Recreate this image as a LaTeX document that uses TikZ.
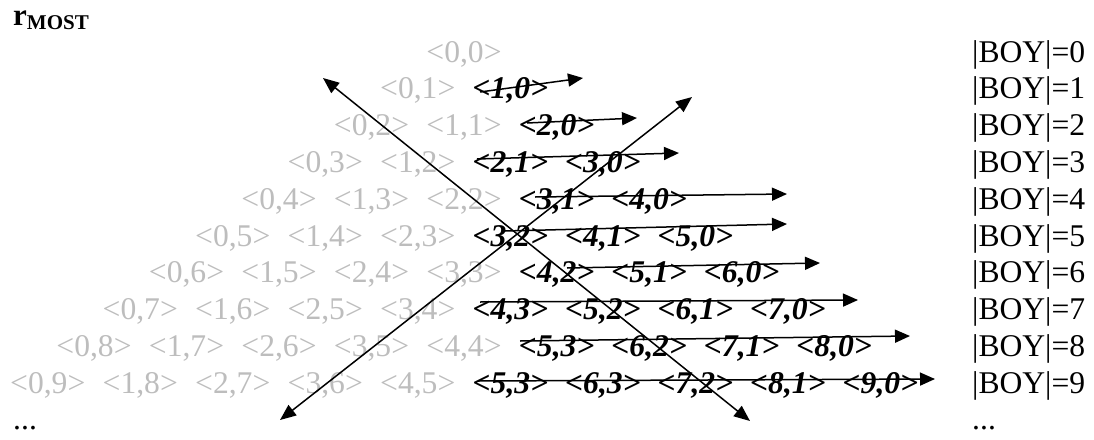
\documentclass[tikz,border=0pt]{standalone}
\usepackage{fontspec}
\setmainfont{Liberation Serif}
\usetikzlibrary{arrows.meta}
\definecolor{lightgreytext}{gray}{0.74}
\begin{document}
\begin{tikzpicture}[x=1pt,y=-1pt,
  txt/.style={inner sep=0pt, anchor=base west, font=\fontsize{31.6}{36}\selectfont},
  greyitem/.style={txt, text=lightgreytext},
  blackitem/.style={txt, font=\fontsize{31.6}{36}\selectfont\bfseries\itshape},
  arr/.style={line width=1.5pt, -{Triangle[length=15pt,width=13pt]}},
  darr/.style={line width=1.5pt, {Triangle[length=16pt,width=13pt]}-{Triangle[length=16pt,width=13pt]}}]
\useasboundingbox (0,0) rectangle (1094,439);

\node[anchor=base west, inner sep=0pt, font=\fontsize{31}{31}\selectfont\bfseries] (title) at (13,25) {r\raisebox{-4pt}{\fontsize{21}{21}\selectfont MOST}};

\foreach \k in {0,...,9} {
  \pgfmathsetmacro\base{62+36.8*\k}
  \pgfmathsetmacro\xs{10+(9-\k)*46.25}
  \node[txt] (boy\k) at (972,\base) {|BOY|=\k};
  \foreach \i in {0,...,\k} {
    \pgfmathtruncatemacro\j{\k-\i}
    \pgfmathsetmacro\xi{\xs+92.5*\i}
    \pgfmathtruncatemacro\twoi{2*\i}
    \ifnum\twoi>\k
      \ifnum\k=9 \ifnum\i=5 \def\j{3}\fi\fi
      \node[blackitem] (b\k-\i) at (\xi,\base) {<\i,\j>};
    \else
      \node[greyitem] (g\k-\i) at (\xi,\base) {<\i,\j>};
    \fi
  }
}

\node[txt] (dotsL) at (13,429) {...};
\node[txt] (dotsR) at (972,429) {...};

% row arrows
\coordinate (s1) at (480,92);  \coordinate (t1) at (583,78);
\coordinate (s2) at (527,123); \coordinate (t2) at (637,118);
\coordinate (s3) at (477,159); \coordinate (t3) at (679,153);
\coordinate (s4) at (535,197); \coordinate (t4) at (787,194);
\coordinate (s5) at (505,231); \coordinate (t5) at (787,224);
\coordinate (s6) at (567,268); \coordinate (t6) at (820,263);
\coordinate (s7) at (480,302); \coordinate (t7) at (858,300);
\coordinate (s8) at (520,341); \coordinate (t8) at (910,336);
\coordinate (s9) at (478,381); \coordinate (t9) at (935,379);
\foreach \r in {1,...,9} { \draw[arr] (s\r) -- (t\r); }

% diagonal arrows
\coordinate (dA1) at (323,78);  \coordinate (dA2) at (750,421);
\coordinate (dB1) at (280,420); \coordinate (dB2) at (692,97);
\draw[darr] (dA1) -- (dA2);
\draw[darr] (dB1) -- (dB2);
\end{tikzpicture}
\end{document}
